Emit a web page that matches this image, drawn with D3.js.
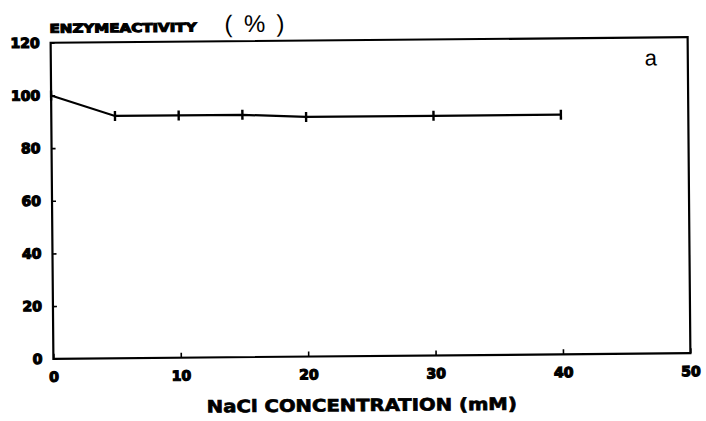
<!DOCTYPE html>
<html>
<head>
<meta charset="utf-8">
<script src="https://cdn.jsdelivr.net/npm/d3@7"></script>
<style>
  html, body { margin: 0; padding: 0; background: #fff; }
  svg { display: block; }
  .tick-label { font-family: "DejaVu Sans", sans-serif; font-weight: bold; font-size: 14px; fill: #000; stroke: #000; stroke-width: 1.2px; }
</style>
</head>
<body>
<svg id="chart" width="706" height="421"></svg>
<script>
// NaCl concentration (mM) vs. relative enzyme activity (%)
const concentration = [0, 5, 10, 15, 20, 30, 40];
const activity = [100, 92, 92, 92, 91, 91, 91];
const xTicks = [0, 10, 20, 30, 40, 50];
const yTicks = [0, 20, 40, 60, 80, 100, 120];
const yTitle = "ENZYMEACTIVITY";
const yUnit = "(%)";
const xTitle = "NaCl CONCENTRATION (mM)";
const panelLabel = "a";

const svg = d3.select("#chart");
const margin = { left: 52, right: 706 - 689, top: 40, bottom: 421 - 356 };
const W = 706, H = 421;

// whole figure sits slightly tilted
const g = svg.append("g").attr("transform", "rotate(-0.5, 370, 197)");

const x = d3.scaleLinear().domain([0, 50]).range([margin.left, W - margin.right]);
const y = d3.scaleLinear().domain([0, 120]).range([H - margin.bottom, margin.top]);

// frame
g.append("rect")
  .attr("x", x(0)).attr("y", y(120))
  .attr("width", x(50) - x(0)).attr("height", y(0) - y(120))
  .attr("fill", "none").attr("stroke", "#000").attr("stroke-width", 2.2);

// x axis: inward ticks, labels below
const xAxis = d3.axisBottom(x).tickValues(xTicks).tickSize(-5).tickPadding(13).tickFormat(d3.format("d"));
const xg = g.append("g").attr("transform", `translate(0,${y(0)})`).call(xAxis);
xg.select(".domain").remove();
xg.selectAll(".tick line").attr("stroke", "#000").attr("stroke-width", 1.6);
xg.selectAll(".tick text").attr("class", "tick-label").attr("dy", "0.71em");

// y axis: inward ticks, labels left
const yAxis = d3.axisLeft(y).tickValues(yTicks).tickSize(-4).tickPadding(11).tickFormat(d3.format("d"));
const yg = g.append("g").attr("transform", `translate(${x(0)},0)`).call(yAxis);
yg.select(".domain").remove();
yg.selectAll(".tick line").attr("stroke", "#000").attr("stroke-width", 1.6);
yg.selectAll(".tick text").attr("class", "tick-label");

// data line
const pts = concentration.map((c, i) => [c, activity[i]]);
g.append("path")
  .datum(pts)
  .attr("fill", "none").attr("stroke", "#000").attr("stroke-width", 2.2)
  .attr("d", d3.line().x(d => x(d[0])).y(d => y(d[1])));

// vertical tick markers at each point
g.selectAll(".mark").data(pts).enter().append("line")
  .attr("class", "mark")
  .attr("x1", d => x(d[0])).attr("x2", d => x(d[0]))
  .attr("y1", d => y(d[1]) - 5).attr("y2", d => y(d[1]) + 5)
  .attr("stroke", "#000").attr("stroke-width", 2.4);

// y title and unit
g.append("text")
  .attr("x", 51).attr("y", 30)
  .attr("font-family", "DejaVu Sans, sans-serif")
  .attr("font-weight", "bold").attr("font-size", 12)
  .attr("stroke", "#000").attr("stroke-width", 1.1)
  .attr("textLength", 147).attr("lengthAdjust", "spacingAndGlyphs")
  .text(yTitle);
g.append("text")
  .attr("x", 226).attr("y", 31)
  .attr("font-family", "Liberation Sans, sans-serif")
  .attr("font-size", 24)
  .attr("textLength", 60).attr("lengthAdjust", "spacing")
  .text(yUnit);

// x title
g.append("text")
  .attr("x", 360).attr("y", 411)
  .attr("text-anchor", "middle")
  .attr("font-family", "DejaVu Sans, sans-serif")
  .attr("font-weight", "bold").attr("font-size", 17)
  .attr("stroke", "#000").attr("stroke-width", 0.7)
  .attr("textLength", 310).attr("lengthAdjust", "spacingAndGlyphs")
  .text(xTitle);

// panel label
g.append("text")
  .attr("x", 652).attr("y", 68)
  .attr("text-anchor", "middle")
  .attr("font-family", "Liberation Sans, sans-serif")
  .attr("font-size", 22)
  .text(panelLabel);
</script>
</body>
</html>
